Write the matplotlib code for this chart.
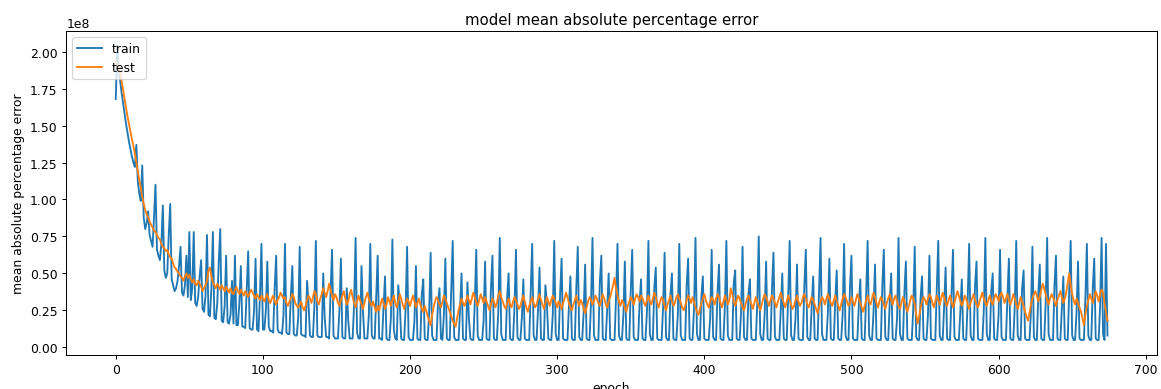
#!/usr/bin/env python3

import matplotlib
matplotlib.use("Agg")
import matplotlib.pyplot as plt
import numpy as np

# values, in units of 1e6
train = [
    168, 204, 188, 180, 172, 165, 158, 151, 145, 139, 134, 129, 125, 122, 137, 112, 104, 99, 123, 88, 80, 84, 92, 76, 72,
    68, 88, 110, 66, 62, 59, 70, 96, 52, 47, 50, 76, 97, 46, 42, 38, 40, 45, 55, 68, 37, 35, 42, 62, 34,
    78, 32, 40, 78, 30, 28, 34, 48, 59, 26, 24, 35, 76, 22, 21, 40, 78, 20, 19, 30, 58, 80, 18, 17, 28,
    62, 17, 16, 22, 45, 16, 62, 15, 15, 30, 55, 14, 14, 13, 40, 65, 13, 12, 12, 25, 60, 12, 11, 35, 70,
    12, 12, 25, 58, 14, 11, 11, 10, 40, 62, 12, 10, 10, 9, 22, 70, 10, 9, 9, 35, 55, 9, 8, 8, 20,
    68, 9, 8, 8, 7, 45, 30, 8, 7, 7, 28, 72, 8, 7, 7, 7, 50, 20, 7, 7, 6, 38, 66, 8, 6,
    6, 6, 25, 60, 7, 6, 6, 40, 18, 6, 6, 6, 30, 74, 10, 6, 6, 55, 25, 6, 6, 6, 22, 70, 8,
    6, 6, 35, 62, 6, 6, 5, 28, 48, 6, 5, 5, 20, 73, 12, 6, 5, 42, 30, 6, 5, 5, 26, 68, 7,
    5, 5, 5, 18, 55, 6, 5, 5, 36, 46, 6, 5, 5, 24, 64, 8, 5, 5, 5, 30, 40, 6, 5, 22, 60,
    6, 5, 5, 38, 72, 7, 5, 5, 5, 26, 50, 6, 5, 5, 44, 20, 6, 5, 5, 30, 66, 8, 5, 5, 5,
    18, 58, 6, 5, 5, 40, 62, 6, 5, 5, 24, 74, 9, 5, 5, 5, 34, 50, 6, 5, 5, 28, 66, 7, 5,
    5, 20, 46, 6, 5, 5, 5, 38, 70, 8, 5, 5, 26, 54, 6, 5, 5, 42, 30, 6, 5, 5, 22, 72, 9,
    5, 5, 36, 60, 6, 5, 5, 5, 28, 48, 6, 5, 5, 40, 68, 7, 5, 5, 24, 56, 6, 5, 5, 30, 74,
    8, 5, 5, 5, 44, 62, 6, 5, 5, 26, 50, 6, 5, 5, 5, 34, 70, 8, 5, 5, 22, 58, 6, 5, 5,
    38, 66, 7, 5, 5, 5, 30, 46, 6, 5, 5, 24, 72, 9, 5, 5, 40, 54, 6, 5, 5, 5, 28, 64, 7,
    5, 5, 36, 50, 6, 5, 5, 22, 70, 8, 5, 5, 5, 42, 60, 6, 5, 5, 26, 74, 9, 5, 5, 34, 48,
    6, 5, 5, 5, 20, 66, 7, 5, 5, 38, 56, 6, 5, 5, 28, 72, 8, 5, 5, 5, 44, 52, 6, 5, 5,
    24, 68, 7, 5, 5, 36, 46, 6, 5, 5, 5, 30, 75, 9, 5, 5, 22, 58, 6, 5, 5, 40, 64, 7, 5,
    5, 5, 26, 50, 6, 5, 5, 34, 72, 8, 5, 5, 20, 56, 6, 5, 5, 5, 42, 66, 7, 5, 5, 28, 48,
    6, 5, 5, 38, 74, 9, 5, 5, 5, 24, 60, 6, 5, 5, 32, 52, 6, 5, 5, 22, 70, 8, 5, 5, 40,
    62, 6, 5, 5, 5, 28, 46, 6, 5, 5, 36, 72, 8, 5, 5, 24, 56, 6, 5, 5, 5, 42, 66, 7, 5,
    5, 30, 50, 6, 5, 5, 20, 74, 9, 5, 5, 38, 58, 6, 5, 5, 5, 26, 68, 7, 5, 5, 34, 48, 6,
    5, 5, 22, 62, 6, 5, 5, 5, 40, 72, 8, 5, 5, 28, 54, 6, 5, 5, 36, 66, 7, 5, 5, 5, 24,
    46, 6, 5, 5, 32, 70, 8, 5, 5, 42, 58, 6, 5, 5, 5, 26, 74, 9, 5, 5, 38, 50, 6, 5, 5,
    22, 66, 7, 5, 5, 5, 34, 60, 6, 5, 5, 28, 72, 8, 5, 5, 40, 52, 6, 5, 5, 5, 24, 68, 7,
    5, 5, 36, 56, 6, 5, 5, 30, 74, 9, 5, 5, 5, 42, 62, 6, 5, 5, 26, 48, 6, 5, 5, 38, 72,
    8, 5, 5, 24, 58, 6, 5, 5, 5, 34, 70, 8, 5, 5, 40, 60, 6, 5, 5, 28, 74, 9, 5, 70, 8,
]

test = [
    194, 191, 188, 186, 180, 174, 168, 162, 156, 151, 146, 141, 136, 131, 125, 119, 113, 108, 102, 97, 93, 90, 88, 85, 83,
    81, 79, 78, 76, 74, 73, 70, 68, 67, 65, 66, 63, 61, 60, 57, 54, 53, 51, 50, 48, 47, 45, 48, 50, 47,
    49, 46, 44, 46, 43, 42, 45, 43, 41, 38, 40, 42, 45, 52, 54, 48, 44, 42, 40, 43, 41, 39, 42, 40, 38,
    41, 39, 37, 40, 37, 36, 39, 41, 38, 36, 39, 37, 35, 38, 36, 34, 37, 39, 37, 35, 33, 36, 34, 32, 35,
    33, 31, 34, 36, 32, 30, 33, 35, 31, 29, 32, 34, 37, 35, 33, 34, 30, 28, 31, 33, 36, 34, 30, 28, 27,
    29, 31, 27, 25, 28, 32, 35, 33, 30, 34, 38, 36, 31, 29, 33, 36, 40, 37, 34, 38, 43, 39, 35, 32, 36,
    34, 30, 28, 32, 35, 38, 33, 29, 31, 36, 39, 34, 30, 27, 31, 35, 32, 29, 26, 30, 34, 37, 33, 30, 28,
    31, 27, 24, 28, 25, 29, 33, 30, 26, 29, 34, 31, 28, 32, 35, 30, 27, 31, 36, 33, 29, 26, 30, 33, 31,
    28, 32, 35, 31, 27, 30, 33, 29, 26, 24, 28, 25, 21, 18, 15, 22, 27, 31, 34, 32, 29, 27, 31, 35, 33,
    30, 27, 24, 21, 18, 16, 14, 20, 25, 29, 33, 30, 28, 31, 35, 32, 29, 33, 37, 34, 30, 28, 32, 36, 33,
    30, 34, 31, 28, 25, 29, 33, 31, 27, 30, 35, 38, 34, 31, 28, 26, 30, 33, 29, 27, 31, 34, 32, 29, 26,
    28, 32, 35, 31, 27, 24, 28, 31, 34, 30, 27, 29, 33, 36, 32, 29, 26, 30, 34, 31, 28, 32, 35, 33, 30,
    27, 31, 29, 26, 30, 33, 37, 34, 30, 27, 25, 29, 32, 35, 31, 28, 32, 30, 26, 23, 27, 31, 34, 32, 29,
    31, 35, 33, 30, 28, 32, 36, 33, 29, 27, 31, 34, 38, 42, 47, 40, 35, 31, 28, 32, 30, 27, 24, 28, 31,
    34, 32, 29, 33, 36, 34, 31, 35, 33, 30, 28, 32, 35, 31, 29, 33, 37, 34, 30, 27, 31, 34, 32, 28, 25,
    29, 32, 35, 31, 28, 30, 34, 36, 33, 30, 27, 25, 28, 32, 35, 33, 30, 34, 31, 27, 24, 22, 26, 30, 33,
    36, 32, 29, 27, 31, 34, 32, 29, 33, 36, 34, 30, 27, 31, 35, 32, 29, 32, 40, 36, 31, 28, 32, 35, 33,
    30, 27, 25, 29, 33, 35, 32, 29, 26, 30, 34, 31, 28, 25, 29, 33, 36, 34, 31, 28, 32, 35, 33, 30, 27,
    31, 34, 37, 33, 30, 27, 31, 35, 32, 29, 26, 28, 32, 35, 31, 28, 30, 34, 36, 33, 29, 27, 31, 34, 32,
    29, 26, 23, 27, 31, 34, 32, 29, 33, 36, 33, 30, 28, 32, 35, 31, 28, 25, 29, 33, 36, 34, 31, 28, 30,
    34, 31, 28, 32, 36, 33, 30, 27, 24, 28, 32, 35, 31, 29, 33, 37, 34, 30, 27, 31, 34, 32, 29, 26, 30,
    33, 36, 32, 29, 33, 35, 31, 28, 26, 30, 34, 31, 27, 24, 28, 32, 35, 33, 29, 22, 16, 21, 27, 31, 34,
    32, 29, 33, 36, 34, 30, 27, 31, 35, 32, 29, 33, 37, 34, 30, 28, 32, 35, 31, 27, 30, 34, 38, 35, 31,
    28, 31, 35, 33, 29, 26, 30, 33, 36, 32, 29, 27, 31, 34, 37, 33, 30, 28, 32, 35, 31, 29, 33, 36, 34,
    31, 35, 37, 34, 30, 33, 36, 32, 29, 32, 36, 33, 29, 26, 30, 34, 31, 28, 24, 21, 18, 23, 29, 33, 36,
    38, 35, 31, 34, 39, 43, 40, 36, 32, 29, 33, 36, 34, 31, 28, 32, 35, 38, 34, 30, 33, 37, 44, 50, 42,
    36, 32, 29, 33, 30, 27, 24, 20, 15, 22, 28, 32, 36, 33, 30, 34, 38, 35, 31, 36, 39, 37, 30, 24, 18,
]

train = np.array(train) * 1e6
test = np.array(test) * 1e6

dpi = 89
fig, ax = plt.subplots(figsize=(1161 / dpi, 390 / dpi), dpi=dpi)
fig.subplots_adjust(left=0.057, right=0.9966, bottom=0.088, top=0.918)

ax.plot(np.arange(len(train)), train, label="train")
ax.plot(np.arange(len(test)), test, label="test")

ax.set_title("model mean absolute percentage error")
ax.set_ylabel("mean absolute percentage error")
ax.set_xlabel("epoch")
ax.legend(loc="upper left")

fig.savefig("out.png", dpi=dpi)
